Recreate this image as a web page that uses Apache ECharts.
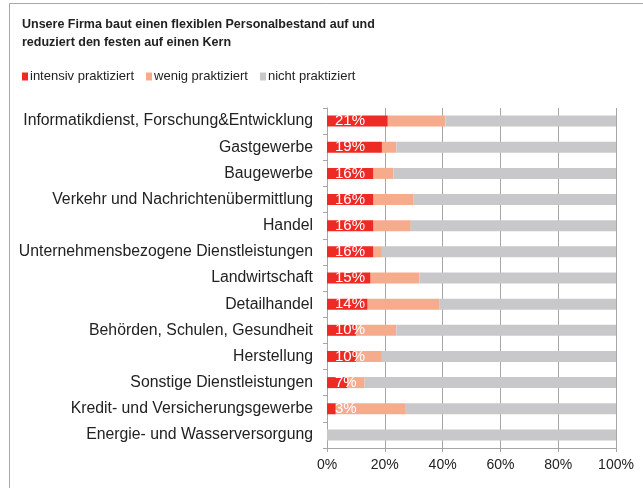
<!DOCTYPE html>
<html>
<head>
<meta charset="utf-8">
<script src="https://cdn.jsdelivr.net/npm/echarts@6/dist/echarts.min.js"></script>
<style>
  html, body { margin: 0; padding: 0; background: #fff; }
  #chart { width: 643px; height: 488px; }
</style>
</head>
<body>
<div id="chart"></div>
<script>
// Branchen (top to bottom)
const categories = [
  'Informatikdienst, Forschung&Entwicklung',
  'Gastgewerbe',
  'Baugewerbe',
  'Verkehr und Nachrichtenübermittlung',
  'Handel',
  'Unternehmensbezogene Dienstleistungen',
  'Landwirtschaft',
  'Detailhandel',
  'Behörden, Schulen, Gesundheit',
  'Herstellung',
  'Sonstige Dienstleistungen',
  'Kredit- und Versicherungsgewerbe',
  'Energie- und Wasserversorgung'
];

// Anteile in Prozent
const intensiv = [21, 19, 16, 16, 16, 16, 15, 14, 10, 10, 7, 3, 0];
const wenig    = [20, 5, 7, 14, 13, 3, 17, 25, 14, 9, 6, 24, 0];
const nicht    = [59, 76, 77, 70, 71, 81, 68, 61, 76, 81, 87, 73, 100];

const xTicks = [0, 20, 40, 60, 80, 100];

const seriesNames = ['intensiv praktiziert', 'wenig praktiziert', 'nicht praktiziert'];
const colors = ['#ee2a24', '#f6ab8c', '#c8c8ca'];

const chart = echarts.init(document.getElementById('chart'), null, { renderer: 'canvas' });

const baseFont = 'Liberation Sans, Arial, sans-serif';

chart.setOption({
  animation: false,
  textStyle: { fontFamily: baseFont },
  title: {
    text: 'Unsere Firma baut einen flexiblen Personalbestand auf und\nreduziert den festen auf einen Kern',
    left: 22,
    top: 16,
    padding: 0,
    textStyle: { fontSize: 12.5, fontWeight: 'bold', color: '#222', lineHeight: 18, fontFamily: baseFont }
  },
  legend: {
    left: 22,
    top: 70,
    padding: 0,
    itemWidth: 6,
    itemHeight: 8,
    itemGap: 12,
    icon: 'rect',
    textStyle: { fontSize: 13, color: '#222', padding: [0, 0, 0, -3], fontFamily: baseFont },
    data: seriesNames
  },
  graphic: [{
    type: 'polyline',
    shape: { points: [[9.5, 488], [9.5, 3.5], [643, 3.5]] },
    style: { stroke: '#a8a8a8', lineWidth: 1, fill: null },
    silent: true
  }],
  grid: { left: 327, right: 27, top: 108, bottom: 40, containLabel: false },
  xAxis: {
    type: 'value',
    min: 0,
    max: 100,
    interval: 20,
    axisLine: { show: true, lineStyle: { color: '#a6a6a6' } },
    axisTick: { show: true, length: 4, lineStyle: { color: '#a6a6a6' } },
    splitLine: { show: true, lineStyle: { color: '#a6a6a6', width: 1 } },
    axisLabel: {
      margin: 10,
      fontSize: 14,
      color: '#222',
      formatter: v => xTicks.includes(v) ? v + '%' : ''
    }
  },
  yAxis: {
    type: 'category',
    inverse: true,
    data: categories,
    axisLine: { show: true, lineStyle: { color: '#a6a6a6' } },
    axisTick: { show: true, length: 4, lineStyle: { color: '#a6a6a6' } },
    axisLabel: { fontSize: 15.8, color: '#222', margin: 14 }
  },
  series: [
    {
      name: seriesNames[0], type: 'bar', stack: 'total', barWidth: 11,
      itemStyle: { color: colors[0] },
      label: {
        show: true,
        position: [8, '50%'],
        verticalAlign: 'middle',
        color: '#fff',
        fontSize: 15,
        formatter: p => p.value > 0 ? p.value + '%' : ''
      },
      z: 3,
      data: intensiv
    },
    { name: seriesNames[1], type: 'bar', stack: 'total', barWidth: 11, itemStyle: { color: colors[1] }, data: wenig },
    { name: seriesNames[2], type: 'bar', stack: 'total', barWidth: 11, itemStyle: { color: colors[2] }, data: nicht }
  ]
});
</script>
</body>
</html>
